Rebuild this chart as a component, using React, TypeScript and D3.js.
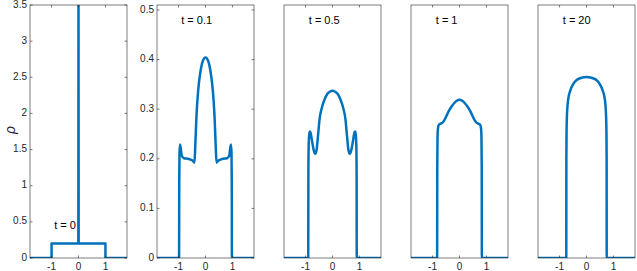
import React, { useEffect } from 'react';
import * as d3 from 'd3';

// x positions / densities
const t0X = [-1.8, -1, -1, -0.006, 0, 0.006, 1, 1, 1.8];
const t0Y = [0, 0, 0.2, 0.2, 3.7, 0.2, 0.2, 0, 0];

const t01X = [-1.8, -0.98, -0.975, -0.965, -0.945, -0.92, -0.88, -0.8, -0.65, -0.5, -0.44, -0.41, -0.38, -0.34, -0.3, -0.25, -0.18, -0.1, 0,
  0.1, 0.18, 0.25, 0.3, 0.34, 0.38, 0.41, 0.44, 0.5, 0.65, 0.8, 0.88, 0.92, 0.945, 0.965, 0.975, 0.98, 1.8];
const t01Y = [0, 0, 0.15, 0.212, 0.229, 0.222, 0.206, 0.201, 0.2, 0.197, 0.194, 0.192, 0.225, 0.28, 0.318, 0.35, 0.378, 0.397, 0.404,
  0.397, 0.378, 0.35, 0.318, 0.28, 0.225, 0.192, 0.194, 0.197, 0.2, 0.201, 0.206, 0.222, 0.229, 0.212, 0.15, 0, 0];

const t05X = [-1.8, -0.9, -0.895, -0.885, -0.865, -0.84, -0.81, -0.76, -0.7, -0.64, -0.59, -0.54, -0.48, -0.4, -0.3, -0.2, -0.1, 0,
  0.1, 0.2, 0.3, 0.4, 0.48, 0.54, 0.59, 0.64, 0.7, 0.76, 0.81, 0.84, 0.865, 0.885, 0.895, 0.9, 1.8];
const t05Y = [0, 0, 0.17, 0.225, 0.248, 0.255, 0.252, 0.236, 0.218, 0.21, 0.218, 0.245, 0.28, 0.302, 0.319, 0.33, 0.335, 0.337,
  0.335, 0.33, 0.319, 0.302, 0.28, 0.245, 0.218, 0.21, 0.218, 0.236, 0.252, 0.255, 0.248, 0.225, 0.17, 0, 0];

const t1X = [-1.8, -0.83, -0.825, -0.815, -0.795, -0.76, -0.7, -0.63, -0.56, -0.48, -0.4, -0.3, -0.2, -0.1, 0,
  0.1, 0.2, 0.3, 0.4, 0.48, 0.56, 0.63, 0.7, 0.76, 0.795, 0.815, 0.825, 0.83, 1.8];
const t1Y = [0, 0, 0.18, 0.245, 0.263, 0.269, 0.271, 0.273, 0.278, 0.287, 0.296, 0.305, 0.312, 0.317, 0.319,
  0.317, 0.312, 0.305, 0.296, 0.287, 0.278, 0.273, 0.271, 0.269, 0.263, 0.245, 0.18, 0, 0];

const t20X = [-1.8, -0.75, -0.747, -0.74, -0.725, -0.7, -0.66, -0.6, -0.5, -0.4, -0.3, -0.15, 0,
  0.15, 0.3, 0.4, 0.5, 0.6, 0.66, 0.7, 0.725, 0.74, 0.747, 0.75, 1.8];
const t20Y = [0, 0, 0.2, 0.255, 0.288, 0.31, 0.326, 0.338, 0.35, 0.357, 0.361, 0.364, 0.365,
  0.364, 0.361, 0.357, 0.35, 0.338, 0.326, 0.31, 0.288, 0.255, 0.2, 0, 0];

const labels = ['t = 0', 't = 0.1', 't = 0.5', 't = 1', 't = 20'];
const xTicks = [-1, 0, 1];
const yTicksBig = [0, 0.5, 1, 1.5, 2, 2.5, 3, 3.5];
const yTicksSmall = [0, 0.1, 0.2, 0.3, 0.4, 0.5];

const panels = [
  { xs: t0X, ys: t0Y, label: labels[0], ymax: 3.5, ticks: yTicksBig, lx: -0.9, ly: 0.44, smooth: false },
  { xs: t01X, ys: t01Y, label: labels[1], ymax: 0.51, ticks: yTicksSmall, lx: -0.9, ly: 0.477, smooth: true },
  { xs: t05X, ys: t05Y, label: labels[2], ymax: 0.51, ticks: [], lx: -0.88, ly: 0.477, smooth: true },
  { xs: t1X, ys: t1Y, label: labels[3], ymax: 0.51, ticks: [], lx: -0.88, ly: 0.477, smooth: true },
  { xs: t20X, ys: t20Y, label: labels[4], ymax: 0.51, ticks: [], lx: -0.88, ly: 0.477, smooth: true },
];

const W = 637, H = 271;
const top = 5, bottom = 258, pw = 97;
const lefts = [30, 157, 284, 411, 538];
const axisColor = '#262626';
const font = 'Liberation Sans, Arial, Helvetica, sans-serif';

function Panel({ p, left, idx }: any) {
  const x = d3.scaleLinear().domain([-1.8, 1.8]).range([left, left + pw]);
  const y = d3.scaleLinear().domain([0, p.ymax]).range([bottom, top]);
  const pts = p.xs.map((v: number, i: number) => [v, p.ys[i]]);
  const gen = d3.line<number[]>()
    .x(d => x(d[0]))
    .y(d => y(d[1]))
    .curve(p.smooth ? d3.curveMonotoneX : d3.curveLinear);
  const tl = 2.5;
  return (
    <g>
      <defs>
        <clipPath id={'clip' + idx}>
          <rect x={left} y={top} width={pw} height={bottom - top} />
        </clipPath>
      </defs>
      <path d={gen(pts) || ''} fill="none" stroke="#0072BD" strokeWidth={2.5}
        strokeLinejoin="round" clipPath={`url(#clip${idx})`} />
      <rect x={left} y={top} width={pw} height={bottom - top} fill="none" stroke={axisColor} strokeWidth={0.6} />
      {xTicks.map(t => (
        <g key={'x' + t}>
          <line x1={x(t)} x2={x(t)} y1={bottom} y2={bottom - tl} stroke={axisColor} strokeWidth={0.6} />
          <line x1={x(t)} x2={x(t)} y1={top} y2={top + tl} stroke={axisColor} strokeWidth={0.6} />
          <text x={x(t)} y={bottom + 9} textAnchor="middle" dominantBaseline="middle"
            fontSize={10} fontFamily={font} fill={axisColor}>{t}</text>
        </g>
      ))}
      {p.ticks.map((t: number) => (
        <g key={'y' + t}>
          <line x1={left} x2={left + tl} y1={y(t)} y2={y(t)} stroke={axisColor} strokeWidth={0.6} />
          <line x1={left + pw} x2={left + pw - tl} y1={y(t)} y2={y(t)} stroke={axisColor} strokeWidth={0.6} />
          <text x={left - 3} y={y(t)} textAnchor="end" dominantBaseline="middle"
            fontSize={10} fontFamily={font} fill={axisColor}>{t}</text>
        </g>
      ))}
      <text x={x(p.lx)} y={y(p.ly)} dominantBaseline="middle" fontSize={11} fontFamily={font} fill="#000">{p.label}</text>
    </g>
  );
}

export default function App() {
  useEffect(() => {
    document.body.style.margin = '0';
  }, []);
  return (
    <svg width={W} height={H} style={{ display: 'block', background: '#fff' }}>
      {panels.map((p, i) => (
        <Panel key={i} p={p} left={lefts[i]} idx={i} />
      ))}
      <text transform="translate(11,130) rotate(-90)" textAnchor="middle" dominantBaseline="middle"
        fontSize={14} fontStyle="italic" fontFamily={font} fill={axisColor}>ρ</text>
    </svg>
  );
}
